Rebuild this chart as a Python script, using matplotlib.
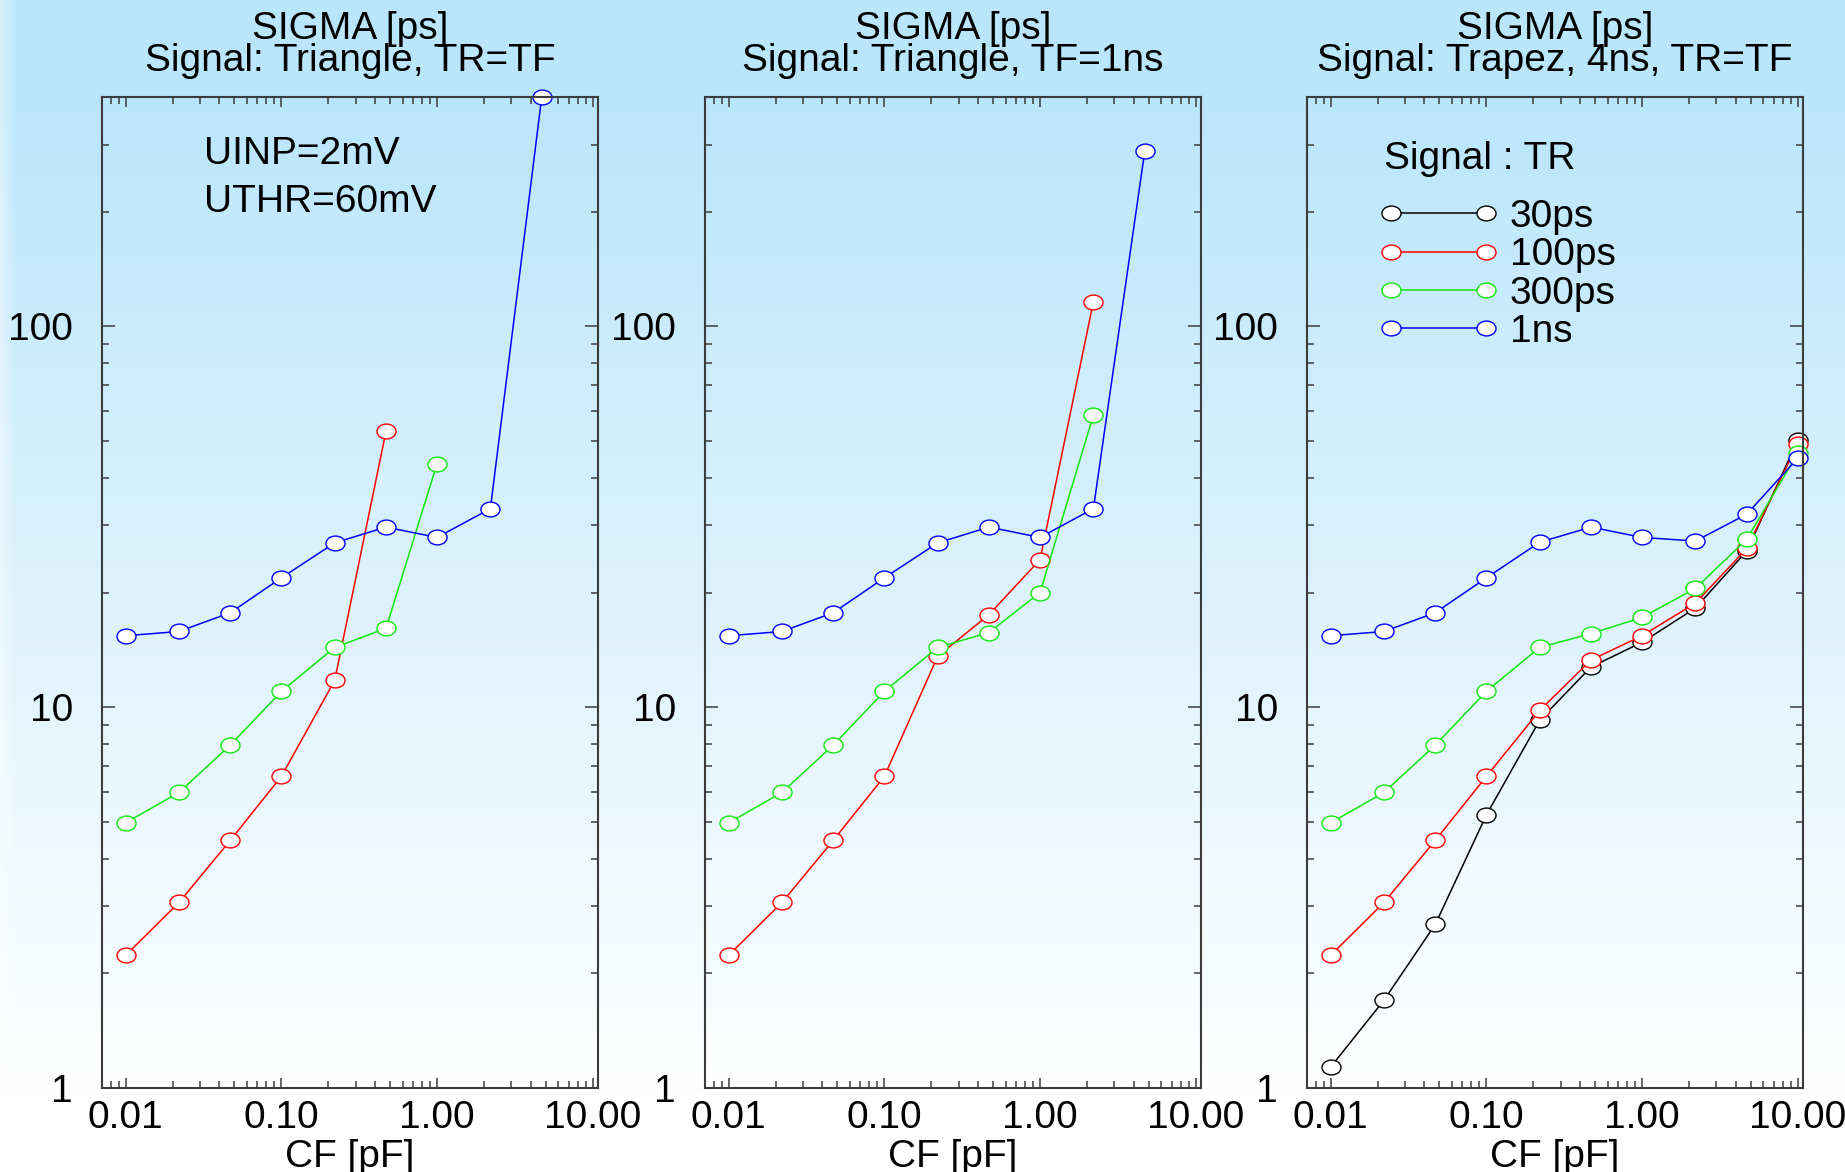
import matplotlib.pyplot as plt
import numpy as np
from matplotlib.path import Path
from matplotlib.ticker import NullFormatter
from matplotlib.legend_handler import HandlerLine2D
from matplotlib.lines import Line2D

# feedback capacitance CF [pF]
cf = [0.01, 0.022, 0.047, 0.1, 0.22, 0.47, 1.0, 2.2, 4.7, 10.0]

# panel 1: triangle, TR=TF
tri_100ps = [2.23, 3.07, 4.47, 6.58, 11.75, 53.0]
tri_300ps = [4.97, 5.97, 7.95, 11.0, 14.35, 16.1, 43.6]
tri_1ns = [15.4, 15.8, 17.7, 21.85, 27.0, 29.7, 27.9, 33.2, 400.0]

# panel 2: triangle, TF=1ns
tf_100ps = [2.23, 3.07, 4.47, 6.58, 13.6, 17.5, 24.4, 116.0]
tf_300ps = [4.97, 5.97, 7.95, 11.0, 14.35, 15.7, 20.0, 58.5]
tf_1ns = [15.4, 15.8, 17.7, 21.85, 27.0, 29.7, 27.9, 33.2, 288.0]

# panel 3: trapez 4ns, TR=TF
trap_30ps = [1.135, 1.70, 2.69, 5.21, 9.24, 12.75, 14.8, 18.2, 25.7, 50.2]
trap_100ps = [2.23, 3.07, 4.47, 6.58, 9.8, 13.3, 15.4, 18.75, 26.1, 49.2]
trap_300ps = [4.97, 5.97, 7.95, 11.0, 14.35, 15.6, 17.2, 20.5, 27.6, 46.4]
trap_1ns = [15.4, 15.8, 17.7, 21.85, 27.1, 29.7, 27.9, 27.3, 32.1, 45.1]

titles = ["Signal: Triangle, TR=TF", "Signal: Triangle, TF=1ns",
          "Signal: Trapez, 4ns, TR=TF"]
legend_labels = ["30ps", "100ps", "300ps", "1ns"]
xticks = [0.01, 0.1, 1.0, 10.0]
xticklabels = ["0.01", "0.10", "1.00", "10.00"]
yticks = [1, 10, 100]
yticklabels = ["1", "10", "100"]

plt.rcParams['font.family'] = ['Liberation Sans', 'DejaVu Sans']
FS = 28
BLACK, RED, GREEN, BLUE = '#000000', '#ff0000', '#10e810', '#0000ff'
AXCOL = '#3c3c3c'

# open ellipse marker (wider than tall)
circ = Path.unit_circle()
ellipse = Path(circ.vertices * [1.0, 0.78], circ.codes)

fig = plt.figure(figsize=(18.45, 11.72), dpi=100)

# light blue -> white background gradient, lighter strip on the left edge
h, w = 400, 1845
t = np.linspace(0, 1, h)[:, None]
f = np.clip((t - 0.08) / 0.85, 0, 1)
top = np.array([186, 230, 252]) / 255.0
img = top + (1 - top) * f[..., None]
img = np.repeat(img, w, axis=1)
edge = np.clip(1 - np.arange(w) / 16.0, 0, 1)[None, :, None] * 0.45
img = img + (1 - img) * edge
bg = fig.add_axes([0, 0, 1, 1], zorder=-10)
bg.imshow(img, aspect='auto', extent=[0, 1, 0, 1], interpolation='bilinear')
bg.axis('off')

lefts = [102, 705, 1307]
panels = [
    [(tri_100ps, RED), (tri_300ps, GREEN), (tri_1ns, BLUE)],
    [(tf_100ps, RED), (tf_300ps, GREEN), (tf_1ns, BLUE)],
    [(trap_30ps, BLACK), (trap_100ps, RED), (trap_300ps, GREEN), (trap_1ns, BLUE)],
]

axes = []
for i in range(3):
    ax = fig.add_axes([lefts[i] / 1845, 1 - 1088 / 1172, 496 / 1845, 991 / 1172])
    ax.set_facecolor('none')
    ax.set_xscale('log')
    ax.set_yscale('log')
    ax.set_xlim(0.00705, 10.8)
    ax.set_ylim(1, 400)

    lines = []
    for vals, col in panels[i]:
        ln, = ax.plot(cf[:len(vals)], vals, color=col, lw=1.1, marker=ellipse,
                      ms=13.7, mfc='white', mec=col, mew=1.0, clip_on=False)
        lines.append(ln)

    ax.set_xticks(xticks, xticklabels)
    ax.set_yticks(yticks, yticklabels)
    ax.xaxis.set_minor_formatter(NullFormatter())
    ax.yaxis.set_minor_formatter(NullFormatter())
    ax.tick_params(which='both', direction='in', top=True, right=True,
                   color=AXCOL, width=1.1, labelsize=FS)
    ax.tick_params(axis='x', which='major', length=7, pad=9)
    ax.tick_params(axis='y', which='major', length=9.5, pad=21)
    ax.tick_params(which='minor', length=5)
    for sp in ax.spines.values():
        sp.set_color(AXCOL)
        sp.set_linewidth(1.5)

    ax.set_xlabel("CF [pF]", fontsize=FS, labelpad=2)
    ax.text(0.5, 1.0582, "SIGMA [ps]", transform=ax.transAxes, ha='center',
            va='baseline', fontsize=FS)
    ax.text(0.5, 1.0265, titles[i], transform=ax.transAxes, ha='center',
            va='baseline', fontsize=FS)
    axes.append((ax, lines))

# annotation in first panel
ax1 = axes[0][0]
ax1.text(0.2056, 0.9425, "UINP=2mV", transform=ax1.transAxes, va='center', fontsize=FS)
ax1.text(0.2056, 0.894, "UTHR=60mV", transform=ax1.transAxes, va='center', fontsize=FS)

# legend in third panel
ax3, lines3 = axes[2]
ax3.text(0.155, 0.937, "Signal : TR", transform=ax3.transAxes, va='center', fontsize=FS)
ax3.legend(lines3, legend_labels, loc='upper left', bbox_to_anchor=(0.1694, 0.897),
           frameon=False, fontsize=FS, handlelength=2.44, handletextpad=0.62,
           labelspacing=0.06, borderpad=0, borderaxespad=0,
           handler_map={Line2D: HandlerLine2D(numpoints=2, marker_pad=0)})

plt.savefig('out.png', dpi=100)
